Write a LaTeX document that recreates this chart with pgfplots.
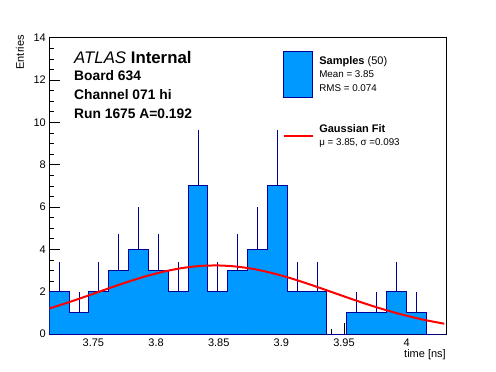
\documentclass[border=0pt]{standalone}
\usepackage{fontspec}
\setmainfont{Liberation Sans}
\usepackage{pgfplots}
\pgfplotsset{compat=1.18}
\definecolor{histfill}{RGB}{0,153,255}
\definecolor{histline}{RGB}{0,0,153}
\begin{document}
\begin{tikzpicture}
\path[use as bounding box] (-49.3bp,-38bp) rectangle (446.7bp,334bp);
\begin{axis}[
  at={(0,0)}, anchor=south west,
  scale only axis, width=396.7bp, height=296.3bp,
  xmin=3.7148, xmax=4.0314, ymin=0, ymax=14,
  xtick={3.75,3.8,3.85,3.9,3.95,4},
  ytick={0,2,4,6,8,10,12,14},
  minor x tick num=4, minor y tick num=3,
  tick align=inside, tick pos=left,
  major tick length=10.5bp, minor tick length=5bp,
  every tick/.style={black, line width=0.6bp},
  axis line style={line width=0.8bp},
  /pgf/number format/assume math mode=true,
  ticklabel style={font=\fontsize{11bp}{13bp}\selectfont},
  xticklabel style={yshift=-1.5bp},
  xlabel={time [ns]}, ylabel={Entries},
  xlabel style={at={(rel axis cs:1,-0.0793)}, anchor=base east, inner sep=0pt, font=\fontsize{11bp}{13bp}\selectfont},
  ylabel style={at={(rel axis cs:-0.0638,1.009)}, anchor=base east, inner sep=0pt, font=\fontsize{11bp}{13bp}\selectfont},
  legend style={at={(rel axis cs:0.5884,0.955)}, anchor=north west, draw=none, fill=none,
    inner sep=0pt, outer sep=0pt, row sep=26bp, column sep=5.6bp,
    nodes={inner sep=0pt, align=left, font=\fontsize{9.8bp}{13.5bp}\selectfont}},
  legend cell align=left,
]
\addplot[const plot mark left, fill=histfill, draw=histline, line width=1bp, forget plot]
coordinates {(3.7148,2) (3.73063,1) (3.74646,2) (3.76229,3) (3.77812,4) (3.79395,3)
 (3.80978,2) (3.82561,7) (3.84144,2) (3.85727,3) (3.8731,4) (3.88893,7) (3.90476,2)
 (3.92059,2) (3.93642,0) (3.95225,1) (3.96808,1) (3.98391,2) (3.99974,1) (4.01557,0) (4.0314,0)} \closedcycle;
\addplot[draw=none, mark=none, forget plot,
  error bars/.cd, y dir=plus, y explicit, error mark=none,
  error bar style={draw=histline, solid, line width=1bp}]
coordinates {(3.72272,2) +- (0,1.4142) (3.73855,1) +- (0,1) (3.75438,2) +- (0,1.4142)
 (3.77021,3) +- (0,1.7321) (3.78604,4) +- (0,2) (3.80187,3) +- (0,1.7321)
 (3.8177,2) +- (0,1.4142) (3.83353,7) +- (0,2.6458) (3.84936,2) +- (0,1.4142)
 (3.86519,3) +- (0,1.7321) (3.88102,4) +- (0,2) (3.89685,7) +- (0,2.6458)
 (3.91268,2) +- (0,1.4142) (3.92851,2) +- (0,1.4142) (3.96017,1) +- (0,1)
 (3.976,1) +- (0,1) (3.99183,2) +- (0,1.4142) (4.00766,1) +- (0,1)};
\addplot[red, line width=2bp, smooth, forget plot]
coordinates {(3.715,1.209) (3.73,1.493) (3.745,1.798) (3.76,2.111) (3.775,2.416)
 (3.79,2.696) (3.805,2.932) (3.82,3.109) (3.835,3.214) (3.85,3.238) (3.865,3.181)
 (3.88,3.046) (3.895,2.844) (3.91,2.588) (3.925,2.296) (3.94,1.986) (3.955,1.675)
 (3.97,1.376) (3.985,1.103) (4.0,0.862) (4.015,0.656) (4.03,0.487)};
\addlegendimage{legend image code/.code={\draw[draw=histline, fill=histfill, line width=1bp] (0bp,-23bp) rectangle (29bp,23bp);}}
\addlegendentry{{\fontsize{11bp}{13.5bp}\selectfont\textbf{Samples} (50)}\\Mean = 3.85\\RMS = 0.074}
\addlegendimage{legend image code/.code={\draw[red, line width=2bp] (0bp,0bp) -- (29bp,0bp);}}
\addlegendentry{{\fontsize{11bp}{13.5bp}\selectfont\textbf{Gaussian Fit}}\\μ = 3.85, σ =0.093}
\node[anchor=base west, inner sep=0pt, font=\fontsize{16.8bp}{18bp}\selectfont] at (rel axis cs:0.0623,0.9136) {\textit{ATLAS} \textbf{Internal}};
\node[anchor=base west, inner sep=0pt, font=\fontsize{13.8bp}{15bp}\selectfont\bfseries] at (rel axis cs:0.0623,0.8539) {Board 634};
\node[anchor=base west, inner sep=0pt, font=\fontsize{13.8bp}{15bp}\selectfont\bfseries] at (rel axis cs:0.0623,0.7898) {Channel 071 hi};
\node[anchor=base west, inner sep=0pt, font=\fontsize{13.8bp}{15bp}\selectfont\bfseries] at (rel axis cs:0.0623,0.7257) {Run 1675 A=0.192};
\end{axis}
\end{tikzpicture}
\end{document}
